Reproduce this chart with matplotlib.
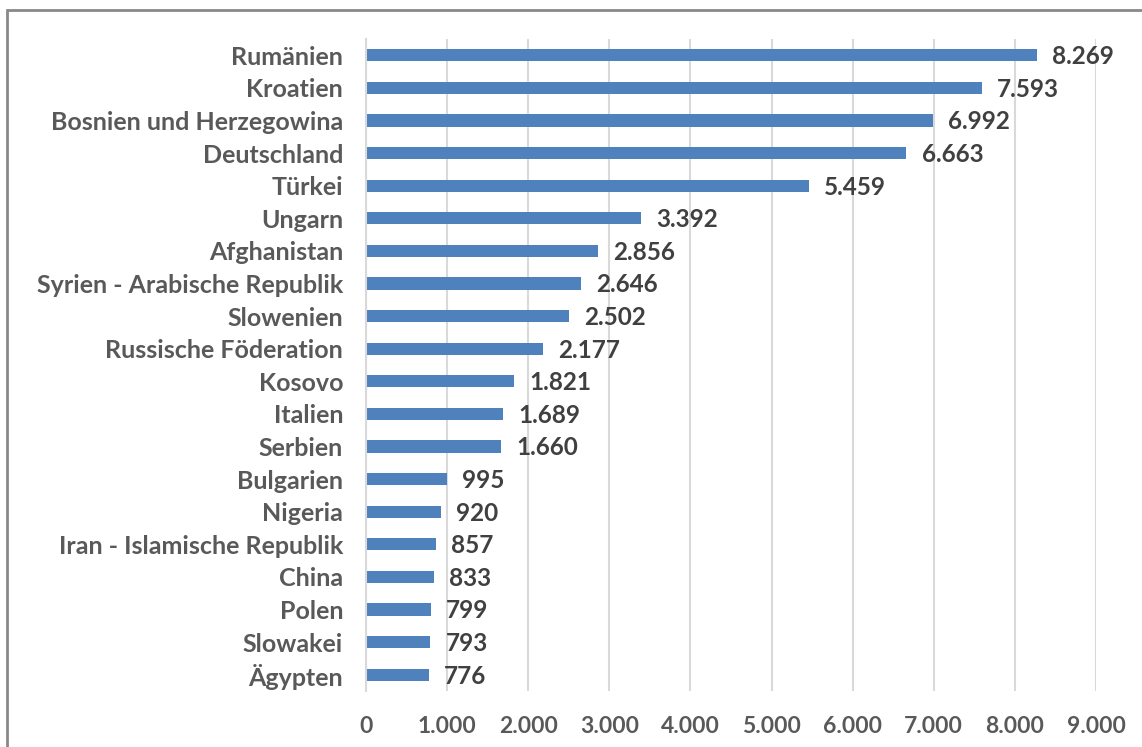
import matplotlib
matplotlib.use("Agg")
import matplotlib.pyplot as plt
from matplotlib.patches import Rectangle

# ---------- DATA ----------
countries = [
    "Rumänien", "Kroatien", "Bosnien und Herzegowina", "Deutschland", "Türkei",
    "Ungarn", "Afghanistan", "Syrien - Arabische Republik", "Slowenien",
    "Russische Föderation", "Kosovo", "Italien", "Serbien", "Bulgarien",
    "Nigeria", "Iran - Islamische Republik", "China", "Polen", "Slowakei", "Ägypten",
]
values = [8269, 7593, 6992, 6663, 5459, 3392, 2856, 2646, 2502, 2177,
          1821, 1689, 1660, 995, 920, 857, 833, 799, 793, 776]
x_ticks = [0, 1000, 2000, 3000, 4000, 5000, 6000, 7000, 8000, 9000]
# ---------------------------

BAR_COLOR = "#4f81bd"
GRID_COLOR = "#d9d9d9"
LABEL_COLOR = "#595959"
VALUE_COLOR = "#404040"

plt.rcParams["font.family"] = ["Lato", "DejaVu Sans"]
plt.rcParams["font.weight"] = "bold"


def de_fmt(v):
    return f"{v:,}".replace(",", ".")


fig = plt.figure(figsize=(11.42, 7.47), dpi=100)
ax = fig.add_axes([366 / 1142, 1 - 691 / 747, 730 / 1142, 652 / 747])

ypos = list(range(len(countries)))
ax.barh(ypos, values, height=0.37, color=BAR_COLOR, zorder=3)

for y, v in zip(ypos, values):
    ax.annotate(de_fmt(v), xy=(v, y), xytext=(11, -1), textcoords="offset points",
                va="center", ha="left", fontsize=17.5, fontweight="bold",
                color=VALUE_COLOR)

ax.set_xlim(0, 9000)
ax.set_ylim(len(countries) - 0.5, -0.5)
ax.set_yticks(ypos)
ax.set_yticklabels(countries, fontsize=18, fontweight="bold", color=LABEL_COLOR)
ax.set_xticks(x_ticks)
ax.set_xticklabels([de_fmt(t) for t in x_ticks], fontsize=16.5, fontweight="bold",
                   color=LABEL_COLOR)
ax.tick_params(axis="both", length=0)
ax.tick_params(axis="y", pad=16.5)
ax.tick_params(axis="x", pad=18)

ax.grid(axis="x", color=GRID_COLOR, linewidth=1.5, zorder=0)
for s in ["top", "right", "bottom"]:
    ax.spines[s].set_visible(False)
ax.spines["left"].set_color(GRID_COLOR)
ax.spines["left"].set_linewidth(1.5)
ax.spines["left"].set_zorder(4)

# outer chart border (cut off at right and bottom in the original)
fig.patches.append(Rectangle((7 / 1142, -0.1), 1.2, 1.1 - 10 / 747,
                             transform=fig.transFigure, fill=False,
                             edgecolor="#898989", linewidth=2))

fig.savefig("out.png", dpi=100)
